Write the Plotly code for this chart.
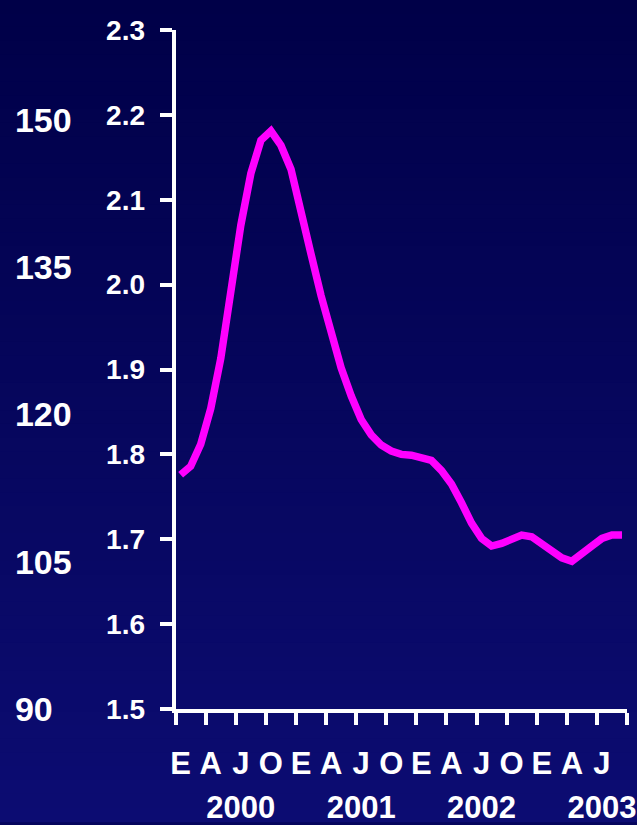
import plotly.graph_objects as go

# Monthly data, Jan 2000 .. Sep 2003 (value of the index)
values = [1.776, 1.786, 1.812, 1.854, 1.913, 1.993, 2.070, 2.131, 2.170, 2.181,
          2.164, 2.136, 2.090, 2.036, 1.987, 1.942, 1.902, 1.869, 1.841, 1.823,
          1.811, 1.804, 1.800, 1.799, 1.796, 1.793, 1.781, 1.765, 1.743, 1.719,
          1.701, 1.692, 1.695, 1.701, 1.705, 1.703, 1.695, 1.688, 1.678, 1.674,
          1.682, 1.692, 1.701, 1.705, 1.705]
months = [m + 0.5 for m in range(len(values))]  # mid-month positions

quarter_labels = ["E", "A", "J", "O", "E", "A", "J", "O", "E", "A", "J", "O", "E", "A", "J"]
quarter_pos = [3 * i + 0.5 for i in range(len(quarter_labels))]
quarter_bounds = [3 * i for i in range(16)]
years = ["2000", "2001", "2002", "2003"]
year_pos = [6.5, 18.5, 30.5, 42.5]
right_ticks = [1.5, 1.6, 1.7, 1.8, 1.9, 2.0, 2.1, 2.2, 2.3]
left_ticks = [90, 105, 120, 135, 150]

W, H = 637, 825
ML, MR, MT, MB = 0, 10, 30, 113
PW = W - ML - MR
PH = H - MT - MB
AXIS_X = 172

FONT = "Liberation Sans, Arial, sans-serif"

fig = go.Figure()
fig.add_trace(go.Scatter(x=months, y=values, mode="lines",
                         line=dict(color="#FF00FF", width=7.5),
                         hoverinfo="skip", showlegend=False))
# empty helper trace so the secondary axes (years, left scale) are drawn
fig.add_trace(go.Scatter(x=[None], y=[None], xaxis="x2", yaxis="y2",
                         mode="lines", hoverinfo="skip", showlegend=False))

# gradient background bands
n = 60
top = (0, 0, 72)
bot = (12, 12, 114)
y_lo = -MB / PH
y_hi = 1 + MT / PH
shapes = []
for i in range(n):
    t = i / (n - 1)
    c = tuple(round(top[k] + (bot[k] - top[k]) * t) for k in range(3))
    y1 = y_hi - (y_hi - y_lo) * i / n
    y0 = y_hi - (y_hi - y_lo) * (i + 1) / n
    shapes.append(dict(type="rect", xref="paper", yref="paper",
                       x0=-0.01, x1=1.03, y0=y0 - 0.001, y1=y1 + 0.001,
                       fillcolor="rgb(%d,%d,%d)" % c, line=dict(width=0),
                       layer="below"))

dom_left = (AXIS_X - ML) / PW

fig.update_layout(
    width=W, height=H,
    margin=dict(l=ML, r=MR, t=MT, b=MB, pad=0),
    paper_bgcolor="rgb(5,5,92)",
    plot_bgcolor="rgba(0,0,0,0)",
    shapes=shapes,
    font=dict(family=FONT, color="white", weight="bold"),
    showlegend=False,
    xaxis=dict(
        domain=[dom_left, 1], range=[0, 45],
        showgrid=False, zeroline=False,
        showline=True, linecolor="white", linewidth=4,
        tickmode="array", tickvals=quarter_pos, ticktext=quarter_labels,
        ticks="", ticklabelstandoff=24,
        tickfont=dict(size=31, family=FONT, color="white", weight="bold"),
        minor=dict(tickmode="array", tickvals=quarter_bounds, ticks="outside",
                   ticklen=12, tickwidth=4, tickcolor="white", showgrid=False),
        ticklabeloverflow="allow",
    ),
    xaxis2=dict(
        overlaying="x", anchor="y", side="bottom",
        domain=[dom_left, 1], range=[0, 45],
        showgrid=False, zeroline=False, showline=False,
        tickmode="array", tickvals=year_pos, ticktext=years,
        ticks="", ticklabelstandoff=77,
        tickfont=dict(size=31, family=FONT, color="white", weight="bold"),
        ticklabeloverflow="allow",
    ),
    yaxis=dict(
        anchor="x", range=[1.5, 2.3],
        showgrid=False, zeroline=False,
        showline=True, linecolor="white", linewidth=4,
        tickmode="array", tickvals=right_ticks, tickformat=".1f",
        ticks="outside", ticklen=12, tickwidth=4, tickcolor="white",
        ticklabelstandoff=9,
        tickfont=dict(size=28, family=FONT, color="white", weight="bold"),
    ),
    yaxis2=dict(
        overlaying="y", anchor="free", side="right", position=9 / PW,
        range=[90, 90 + PH / (148 / 15)],
        showgrid=False, zeroline=False, showline=False,
        tickmode="array", tickvals=left_ticks, ticks="",
        tickfont=dict(size=34, family=FONT, color="white", weight="bold"),
    ),
)

fig.write_html("out.html", config={"displayModeBar": False},
               post_script="document.body.style.margin='0';")
